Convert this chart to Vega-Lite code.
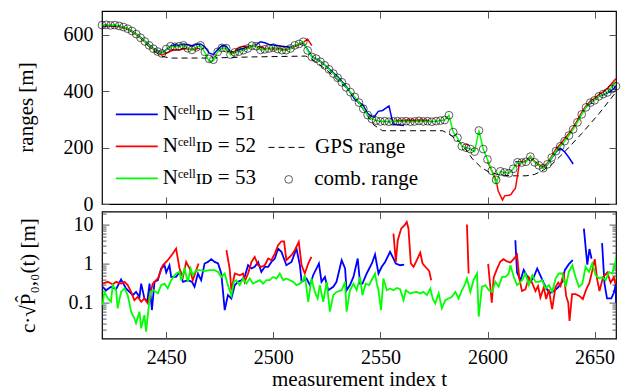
{
"$schema":"https://vega.github.io/schema/vega-lite/v6.json",
"background":"white",
"padding":{"left":14,"top":9,"right":5,"bottom":0},
"spacing":7.6,
"bounds":"flush",
"config":{
 "font":"Liberation Serif",
 "view":{"stroke":"black","strokeWidth":1.2},
 "axis":{"labelFont":"Liberation Serif","titleFont":"Liberation Serif","labelFontSize":20,"titleFontSize":21,"labelColor":"black","titleColor":"black","titleFontWeight":"normal","grid":false,"domain":false,"tickColor":"#555","tickWidth":1,"labelFlush":false},
 "legend":{"labelFont":"Liberation Serif","labelFontSize":21,"labelColor":"black"}
},
"resolve":{"scale":{"color":"independent"},"legend":{"color":"independent"}},
"datasets":{
"gps":[{"t":2420,"r":632},{"t":2430,"r":628},{"t":2436,"r":603},{"t":2440,"r":572},{"t":2444,"r":544},{"t":2448,"r":524},{"t":2452,"r":518},{"t":2470,"r":518},{"t":2490,"r":522},{"t":2515,"r":525},{"t":2518,"r":514},{"t":2525,"r":475},{"t":2535,"r":405},{"t":2542,"r":335},{"t":2547,"r":280},{"t":2551,"r":260},{"t":2579,"r":260},{"t":2582,"r":249},{"t":2588,"r":213},{"t":2593,"r":160},{"t":2597,"r":130},{"t":2601,"r":112},{"t":2606,"r":103},{"t":2612,"r":100},{"t":2618,"r":100},{"t":2622,"r":105},{"t":2626,"r":120},{"t":2630,"r":140},{"t":2636,"r":185},{"t":2644,"r":250},{"t":2652,"r":320},{"t":2660,"r":397}],
"comb":[{"t":2420,"r":635},{"t":2422,"r":636},{"t":2424,"r":634},{"t":2426,"r":635},{"t":2428,"r":632},{"t":2430,"r":628},{"t":2432,"r":622},{"t":2434,"r":614},{"t":2436,"r":603},{"t":2438,"r":590},{"t":2440,"r":577},{"t":2442,"r":563},{"t":2444,"r":551},{"t":2446,"r":541},{"t":2448,"r":534},{"t":2450,"r":550},{"t":2452,"r":560},{"t":2454,"r":558},{"t":2456,"r":560},{"t":2458,"r":563},{"t":2460,"r":553},{"t":2462,"r":547},{"t":2464,"r":556},{"t":2466,"r":563},{"t":2468,"r":540},{"t":2470,"r":515},{"t":2472,"r":512},{"t":2474,"r":540},{"t":2476,"r":554},{"t":2478,"r":553},{"t":2480,"r":530},{"t":2482,"r":538},{"t":2484,"r":541},{"t":2486,"r":546},{"t":2488,"r":552},{"t":2490,"r":562},{"t":2492,"r":560},{"t":2494,"r":547},{"t":2496,"r":549},{"t":2498,"r":552},{"t":2500,"r":555},{"t":2502,"r":550},{"t":2504,"r":546},{"t":2506,"r":546},{"t":2508,"r":552},{"t":2510,"r":563},{"t":2512,"r":568},{"t":2514,"r":576},{"t":2516,"r":545},{"t":2518,"r":522},{"t":2520,"r":516},{"t":2522,"r":505},{"t":2524,"r":492},{"t":2526,"r":478},{"t":2528,"r":463},{"t":2530,"r":448},{"t":2532,"r":432},{"t":2534,"r":414},{"t":2536,"r":397},{"t":2538,"r":380},{"t":2540,"r":360},{"t":2542,"r":338},{"t":2544,"r":316},{"t":2546,"r":302},{"t":2548,"r":296},{"t":2550,"r":293},{"t":2552,"r":294},{"t":2554,"r":292},{"t":2556,"r":293},{"t":2558,"r":294},{"t":2560,"r":293},{"t":2562,"r":294},{"t":2564,"r":292},{"t":2566,"r":293},{"t":2568,"r":295},{"t":2570,"r":293},{"t":2572,"r":294},{"t":2574,"r":292},{"t":2576,"r":294},{"t":2578,"r":296},{"t":2580,"r":298},{"t":2582,"r":315},{"t":2584,"r":255},{"t":2586,"r":235},{"t":2588,"r":205},{"t":2590,"r":200},{"t":2592,"r":195},{"t":2594,"r":186},{"t":2596,"r":261},{"t":2598,"r":195},{"t":2600,"r":158},{"t":2602,"r":118},{"t":2604,"r":86},{"t":2606,"r":116},{"t":2608,"r":112},{"t":2610,"r":109},{"t":2612,"r":125},{"t":2614,"r":148},{"t":2616,"r":147},{"t":2618,"r":150},{"t":2620,"r":168},{"t":2622,"r":148},{"t":2624,"r":137},{"t":2626,"r":127},{"t":2628,"r":141},{"t":2630,"r":165},{"t":2632,"r":188},{"t":2634,"r":205},{"t":2636,"r":223},{"t":2638,"r":243},{"t":2640,"r":265},{"t":2642,"r":290},{"t":2644,"r":318},{"t":2646,"r":343},{"t":2648,"r":360},{"t":2650,"r":368},{"t":2652,"r":382},{"t":2654,"r":390},{"t":2656,"r":396},{"t":2658,"r":408},{"t":2660,"r":418}],
"rng":[
{"cell":51,"seg":"b1","t":2420,"r":633},{"cell":51,"seg":"b1","t":2424,"r":633},{"cell":51,"seg":"b1","t":2428,"r":631},{"cell":51,"seg":"b1","t":2432,"r":622},{"cell":51,"seg":"b1","t":2436,"r":604},{"cell":51,"seg":"b1","t":2440,"r":578},{"cell":51,"seg":"b1","t":2444,"r":552},{"cell":51,"seg":"b1","t":2448,"r":536},{"cell":51,"seg":"b1","t":2450,"r":548},{"cell":51,"seg":"b1","t":2452,"r":560},{"cell":51,"seg":"b1","t":2454,"r":565},{"cell":51,"seg":"b1","t":2456,"r":563},{"cell":51,"seg":"b1","t":2458,"r":568},{"cell":51,"seg":"b1","t":2460,"r":565},{"cell":51,"seg":"b1","t":2462,"r":562},{"cell":51,"seg":"b1","t":2464,"r":566},{"cell":51,"seg":"b1","t":2466,"r":568},{"cell":51,"seg":"b1","t":2468,"r":558},{"cell":51,"seg":"b1","t":2470,"r":536},{"cell":51,"seg":"b1","t":2472,"r":530},{"cell":51,"seg":"b1","t":2474,"r":548},{"cell":51,"seg":"b1","t":2476,"r":562},{"cell":51,"seg":"b1","t":2478,"r":560},{"cell":51,"seg":"b1","t":2480,"r":538},{"cell":51,"seg":"b1","t":2482,"r":540},{"cell":51,"seg":"b1","t":2484,"r":548},{"cell":51,"seg":"b1","t":2486,"r":552},{"cell":51,"seg":"b1","t":2488,"r":556},{"cell":51,"seg":"b1","t":2490,"r":560},{"cell":51,"seg":"b1","t":2492,"r":565},{"cell":51,"seg":"b1","t":2494,"r":576},{"cell":51,"seg":"b1","t":2496,"r":572},{"cell":51,"seg":"b1","t":2498,"r":566},{"cell":51,"seg":"b1","t":2500,"r":564},{"cell":51,"seg":"b1","t":2502,"r":562},{"cell":51,"seg":"b1","t":2504,"r":560},{"cell":51,"seg":"b1","t":2506,"r":558},{"cell":51,"seg":"b1","t":2508,"r":556},{"cell":51,"seg":"b1","t":2510,"r":562},{"cell":51,"seg":"b1","t":2512,"r":566},{"cell":51,"seg":"b1","t":2514,"r":572},{"cell":51,"seg":"b1","t":2516,"r":548},{"cell":51,"seg":"b1","t":2518,"r":524},{"cell":51,"seg":"b1","t":2522,"r":506},{"cell":51,"seg":"b1","t":2526,"r":480},{"cell":51,"seg":"b1","t":2530,"r":452},{"cell":51,"seg":"b1","t":2534,"r":418},{"cell":51,"seg":"b1","t":2538,"r":372},{"cell":51,"seg":"b1","t":2540,"r":362},{"cell":51,"seg":"b1","t":2542,"r":350},{"cell":51,"seg":"b1","t":2544,"r":322},{"cell":51,"seg":"b1","t":2546,"r":310},{"cell":51,"seg":"b1","t":2547,"r":308},{"cell":51,"seg":"b1","t":2549,"r":329},{"cell":51,"seg":"b1","t":2551,"r":332},{"cell":51,"seg":"b1","t":2554,"r":348},{"cell":51,"seg":"b1","t":2555,"r":314},{"cell":51,"seg":"b1","t":2556,"r":283},{"cell":51,"seg":"b1","t":2558,"r":281},{"cell":51,"seg":"b1","t":2561,"r":279},
{"cell":51,"seg":"b2","t":2613,"r":150},{"cell":51,"seg":"b2","t":2616,"r":148},{"cell":51,"seg":"b2","t":2618,"r":152},{"cell":51,"seg":"b2","t":2620,"r":165},{"cell":51,"seg":"b2","t":2622,"r":150},{"cell":51,"seg":"b2","t":2624,"r":138},{"cell":51,"seg":"b2","t":2626,"r":128},{"cell":51,"seg":"b2","t":2628,"r":140},{"cell":51,"seg":"b2","t":2630,"r":163},{"cell":51,"seg":"b2","t":2632,"r":185},{"cell":51,"seg":"b2","t":2634,"r":198},{"cell":51,"seg":"b2","t":2636,"r":185},{"cell":51,"seg":"b2","t":2638,"r":165},{"cell":51,"seg":"b2","t":2640,"r":142},
{"cell":51,"seg":"b3","t":2645,"r":335},{"cell":51,"seg":"b3","t":2647,"r":352},{"cell":51,"seg":"b3","t":2649,"r":360},
{"cell":51,"seg":"b4","t":2653,"r":384},{"cell":51,"seg":"b4","t":2655,"r":391},{"cell":51,"seg":"b4","t":2657,"r":398},{"cell":51,"seg":"b4","t":2659,"r":410},{"cell":51,"seg":"b4","t":2660,"r":420},
{"cell":52,"seg":"r1","t":2420,"r":634},{"cell":52,"seg":"r1","t":2424,"r":633},{"cell":52,"seg":"r1","t":2428,"r":631},{"cell":52,"seg":"r1","t":2432,"r":621},{"cell":52,"seg":"r1","t":2436,"r":602},{"cell":52,"seg":"r1","t":2440,"r":576},{"cell":52,"seg":"r1","t":2444,"r":550},{"cell":52,"seg":"r1","t":2448,"r":528},{"cell":52,"seg":"r1","t":2450,"r":535},{"cell":52,"seg":"r1","t":2452,"r":542},{"cell":52,"seg":"r1","t":2454,"r":548},{"cell":52,"seg":"r1","t":2456,"r":546},{"cell":52,"seg":"r1","t":2458,"r":552},{"cell":52,"seg":"r1","t":2460,"r":550},{"cell":52,"seg":"r1","t":2462,"r":548},{"cell":52,"seg":"r1","t":2465,"r":552},
{"cell":52,"seg":"r2","t":2478,"r":548},{"cell":52,"seg":"r2","t":2480,"r":534},{"cell":52,"seg":"r2","t":2482,"r":542},{"cell":52,"seg":"r2","t":2484,"r":556},{"cell":52,"seg":"r2","t":2486,"r":560},{"cell":52,"seg":"r2","t":2488,"r":558},{"cell":52,"seg":"r2","t":2490,"r":562},{"cell":52,"seg":"r2","t":2492,"r":560},{"cell":52,"seg":"r2","t":2494,"r":556},{"cell":52,"seg":"r2","t":2496,"r":552},{"cell":52,"seg":"r2","t":2498,"r":552},{"cell":52,"seg":"r2","t":2500,"r":550},{"cell":52,"seg":"r2","t":2502,"r":553},{"cell":52,"seg":"r2","t":2504,"r":549},{"cell":52,"seg":"r2","t":2506,"r":548},{"cell":52,"seg":"r2","t":2508,"r":553},{"cell":52,"seg":"r2","t":2510,"r":560},{"cell":52,"seg":"r2","t":2512,"r":566},{"cell":52,"seg":"r2","t":2514,"r":574},{"cell":52,"seg":"r2","t":2516,"r":585},{"cell":52,"seg":"r2","t":2518,"r":562},
{"cell":52,"seg":"r3","t":2557,"r":297},{"cell":52,"seg":"r3","t":2560,"r":296},{"cell":52,"seg":"r3","t":2563,"r":298},{"cell":52,"seg":"r3","t":2566,"r":297},{"cell":52,"seg":"r3","t":2569,"r":298},{"cell":52,"seg":"r3","t":2573,"r":296},
{"cell":52,"seg":"r4","t":2590,"r":213},{"cell":52,"seg":"r4","t":2591,"r":208},
{"cell":52,"seg":"r5","t":2600,"r":150},{"cell":52,"seg":"r5","t":2602,"r":118},{"cell":52,"seg":"r5","t":2604,"r":85},{"cell":52,"seg":"r5","t":2605,"r":46},{"cell":52,"seg":"r5","t":2607,"r":14},{"cell":52,"seg":"r5","t":2608,"r":29},{"cell":52,"seg":"r5","t":2610,"r":31},{"cell":52,"seg":"r5","t":2611,"r":34},{"cell":52,"seg":"r5","t":2612,"r":46},{"cell":52,"seg":"r5","t":2613,"r":55},{"cell":52,"seg":"r5","t":2614,"r":100},{"cell":52,"seg":"r5","t":2615,"r":150},{"cell":52,"seg":"r5","t":2618,"r":152},{"cell":52,"seg":"r5","t":2620,"r":170},{"cell":52,"seg":"r5","t":2622,"r":150},{"cell":52,"seg":"r5","t":2624,"r":140},{"cell":52,"seg":"r5","t":2626,"r":130},{"cell":52,"seg":"r5","t":2628,"r":145},{"cell":52,"seg":"r5","t":2630,"r":170},{"cell":52,"seg":"r5","t":2632,"r":195},{"cell":52,"seg":"r5","t":2634,"r":212},{"cell":52,"seg":"r5","t":2636,"r":232},{"cell":52,"seg":"r5","t":2638,"r":250},{"cell":52,"seg":"r5","t":2640,"r":272},{"cell":52,"seg":"r5","t":2642,"r":298},{"cell":52,"seg":"r5","t":2644,"r":325},{"cell":52,"seg":"r5","t":2646,"r":348},{"cell":52,"seg":"r5","t":2648,"r":365},{"cell":52,"seg":"r5","t":2650,"r":375},{"cell":52,"seg":"r5","t":2652,"r":388},{"cell":52,"seg":"r5","t":2654,"r":398},{"cell":52,"seg":"r5","t":2656,"r":410},{"cell":52,"seg":"r5","t":2658,"r":428},{"cell":52,"seg":"r5","t":2660,"r":445},
{"cell":53,"seg":"g","t":2420,"r":635},{"cell":53,"seg":"g","t":2422,"r":636},{"cell":53,"seg":"g","t":2424,"r":634},{"cell":53,"seg":"g","t":2426,"r":635},{"cell":53,"seg":"g","t":2428,"r":632},{"cell":53,"seg":"g","t":2430,"r":628},{"cell":53,"seg":"g","t":2432,"r":622},{"cell":53,"seg":"g","t":2434,"r":614},{"cell":53,"seg":"g","t":2436,"r":603},{"cell":53,"seg":"g","t":2438,"r":590},{"cell":53,"seg":"g","t":2440,"r":577},{"cell":53,"seg":"g","t":2442,"r":563},{"cell":53,"seg":"g","t":2444,"r":551},{"cell":53,"seg":"g","t":2446,"r":541},{"cell":53,"seg":"g","t":2448,"r":534},{"cell":53,"seg":"g","t":2450,"r":550},{"cell":53,"seg":"g","t":2452,"r":560},{"cell":53,"seg":"g","t":2454,"r":558},{"cell":53,"seg":"g","t":2456,"r":560},{"cell":53,"seg":"g","t":2458,"r":563},{"cell":53,"seg":"g","t":2460,"r":553},{"cell":53,"seg":"g","t":2462,"r":547},{"cell":53,"seg":"g","t":2464,"r":556},{"cell":53,"seg":"g","t":2466,"r":563},{"cell":53,"seg":"g","t":2468,"r":538},{"cell":53,"seg":"g","t":2470,"r":507},{"cell":53,"seg":"g","t":2472,"r":508},{"cell":53,"seg":"g","t":2474,"r":540},{"cell":53,"seg":"g","t":2476,"r":554},{"cell":53,"seg":"g","t":2478,"r":553},{"cell":53,"seg":"g","t":2480,"r":530},{"cell":53,"seg":"g","t":2482,"r":538},{"cell":53,"seg":"g","t":2484,"r":541},{"cell":53,"seg":"g","t":2486,"r":546},{"cell":53,"seg":"g","t":2488,"r":552},{"cell":53,"seg":"g","t":2490,"r":562},{"cell":53,"seg":"g","t":2492,"r":560},{"cell":53,"seg":"g","t":2494,"r":547},{"cell":53,"seg":"g","t":2496,"r":549},{"cell":53,"seg":"g","t":2498,"r":552},{"cell":53,"seg":"g","t":2500,"r":555},{"cell":53,"seg":"g","t":2502,"r":550},{"cell":53,"seg":"g","t":2504,"r":546},{"cell":53,"seg":"g","t":2506,"r":546},{"cell":53,"seg":"g","t":2508,"r":552},{"cell":53,"seg":"g","t":2510,"r":563},{"cell":53,"seg":"g","t":2512,"r":568},{"cell":53,"seg":"g","t":2514,"r":576},{"cell":53,"seg":"g","t":2516,"r":545},{"cell":53,"seg":"g","t":2518,"r":522},{"cell":53,"seg":"g","t":2520,"r":516},{"cell":53,"seg":"g","t":2522,"r":505},{"cell":53,"seg":"g","t":2524,"r":492},{"cell":53,"seg":"g","t":2526,"r":478},{"cell":53,"seg":"g","t":2528,"r":463},{"cell":53,"seg":"g","t":2530,"r":448},{"cell":53,"seg":"g","t":2532,"r":432},{"cell":53,"seg":"g","t":2534,"r":414},{"cell":53,"seg":"g","t":2536,"r":397},{"cell":53,"seg":"g","t":2538,"r":380},{"cell":53,"seg":"g","t":2540,"r":360},{"cell":53,"seg":"g","t":2542,"r":338},{"cell":53,"seg":"g","t":2544,"r":316},{"cell":53,"seg":"g","t":2546,"r":302},{"cell":53,"seg":"g","t":2548,"r":296},{"cell":53,"seg":"g","t":2550,"r":293},{"cell":53,"seg":"g","t":2552,"r":294},{"cell":53,"seg":"g","t":2554,"r":292},{"cell":53,"seg":"g","t":2556,"r":293},{"cell":53,"seg":"g","t":2558,"r":294},{"cell":53,"seg":"g","t":2560,"r":293},{"cell":53,"seg":"g","t":2562,"r":294},{"cell":53,"seg":"g","t":2564,"r":292},{"cell":53,"seg":"g","t":2566,"r":293},{"cell":53,"seg":"g","t":2568,"r":295},{"cell":53,"seg":"g","t":2570,"r":293},{"cell":53,"seg":"g","t":2572,"r":294},{"cell":53,"seg":"g","t":2574,"r":292},{"cell":53,"seg":"g","t":2576,"r":294},{"cell":53,"seg":"g","t":2578,"r":296},{"cell":53,"seg":"g","t":2580,"r":298},{"cell":53,"seg":"g","t":2582,"r":315},{"cell":53,"seg":"g","t":2584,"r":255},{"cell":53,"seg":"g","t":2586,"r":235},{"cell":53,"seg":"g","t":2588,"r":205},{"cell":53,"seg":"g","t":2590,"r":200},{"cell":53,"seg":"g","t":2592,"r":195},{"cell":53,"seg":"g","t":2594,"r":186},{"cell":53,"seg":"g","t":2596,"r":261},{"cell":53,"seg":"g","t":2598,"r":195},{"cell":53,"seg":"g","t":2600,"r":158},{"cell":53,"seg":"g","t":2602,"r":118},{"cell":53,"seg":"g","t":2604,"r":72},{"cell":53,"seg":"g","t":2606,"r":116},{"cell":53,"seg":"g","t":2608,"r":112},{"cell":53,"seg":"g","t":2610,"r":109},{"cell":53,"seg":"g","t":2612,"r":125},{"cell":53,"seg":"g","t":2614,"r":148},{"cell":53,"seg":"g","t":2616,"r":147},{"cell":53,"seg":"g","t":2618,"r":150},{"cell":53,"seg":"g","t":2620,"r":168},{"cell":53,"seg":"g","t":2622,"r":148},{"cell":53,"seg":"g","t":2624,"r":137},{"cell":53,"seg":"g","t":2626,"r":127},{"cell":53,"seg":"g","t":2628,"r":141},{"cell":53,"seg":"g","t":2630,"r":165},{"cell":53,"seg":"g","t":2632,"r":188},{"cell":53,"seg":"g","t":2634,"r":205},{"cell":53,"seg":"g","t":2636,"r":223},{"cell":53,"seg":"g","t":2638,"r":243},{"cell":53,"seg":"g","t":2640,"r":265},{"cell":53,"seg":"g","t":2642,"r":290},{"cell":53,"seg":"g","t":2644,"r":318},{"cell":53,"seg":"g","t":2646,"r":343},{"cell":53,"seg":"g","t":2648,"r":360},{"cell":53,"seg":"g","t":2650,"r":368},{"cell":53,"seg":"g","t":2652,"r":382},{"cell":53,"seg":"g","t":2654,"r":390},{"cell":53,"seg":"g","t":2656,"r":396},{"cell":53,"seg":"g","t":2658,"r":415},{"cell":53,"seg":"g","t":2660,"r":432}],
"std":[
{"cell":51,"seg":"b1","t":2420.3,"v":0.257},{"cell":51,"seg":"b1","t":2421.9,"v":0.21},{"cell":51,"seg":"b1","t":2424.2,"v":0.257},{"cell":51,"seg":"b1","t":2426.6,"v":0.224},{"cell":51,"seg":"b1","t":2428.9,"v":0.4},{"cell":51,"seg":"b1","t":2431.2,"v":0.233},{"cell":51,"seg":"b1","t":2434.4,"v":0.157},{"cell":51,"seg":"b1","t":2435.9,"v":0.19},{"cell":51,"seg":"b1","t":2437.5,"v":0.142},{"cell":51,"seg":"b1","t":2438.3,"v":0.31},{"cell":51,"seg":"b1","t":2439.8,"v":0.129},{"cell":51,"seg":"b1","t":2441.1,"v":0.106},{"cell":51,"seg":"b1","t":2442.2,"v":0.31},{"cell":51,"seg":"b1","t":2443.3,"v":0.065},{"cell":51,"seg":"b1","t":2444.5,"v":0.345},{"cell":51,"seg":"b1","t":2446.1,"v":0.38},{"cell":51,"seg":"b1","t":2447.6,"v":0.76},{"cell":51,"seg":"b1","t":2449.2,"v":0.92},{"cell":51,"seg":"b1","t":2450.0,"v":0.6},{"cell":51,"seg":"b1","t":2451.5,"v":0.92},{"cell":51,"seg":"b1","t":2452.3,"v":0.46},{"cell":51,"seg":"b1","t":2454.6,"v":0.46},{"cell":51,"seg":"b1","t":2456.2,"v":0.62},{"cell":51,"seg":"b1","t":2457.8,"v":0.345},{"cell":51,"seg":"b1","t":2460.1,"v":0.38},{"cell":51,"seg":"b1","t":2462.0,"v":0.345},{"cell":51,"seg":"b1","t":2463.2,"v":0.257},{"cell":51,"seg":"b1","t":2464.8,"v":0.565},{"cell":51,"seg":"b1","t":2466.3,"v":0.38},{"cell":51,"seg":"b1","t":2467.9,"v":1.02},{"cell":51,"seg":"b1","t":2469.5,"v":1.12},{"cell":51,"seg":"b1","t":2471.0,"v":1.32},{"cell":51,"seg":"b1","t":2472.6,"v":1.12},{"cell":51,"seg":"b1","t":2474.2,"v":1.02},{"cell":51,"seg":"b1","t":2475.7,"v":0.565},{"cell":51,"seg":"b1","t":2477.3,"v":0.065},{"cell":51,"seg":"b1","t":2478.8,"v":0.157},{"cell":51,"seg":"b1","t":2480.4,"v":0.129},{"cell":51,"seg":"b1","t":2482.0,"v":0.284},{"cell":51,"seg":"b1","t":2483.5,"v":0.345},{"cell":51,"seg":"b1","t":2485.1,"v":0.38},{"cell":51,"seg":"b1","t":2486.6,"v":0.46},{"cell":51,"seg":"b1","t":2488.2,"v":0.92},{"cell":51,"seg":"b1","t":2489.8,"v":0.76},{"cell":51,"seg":"b1","t":2491.3,"v":0.84},{"cell":51,"seg":"b1","t":2492.9,"v":1.12},{"cell":51,"seg":"b1","t":2494.4,"v":0.62},{"cell":51,"seg":"b1","t":2496.0,"v":0.84},{"cell":51,"seg":"b1","t":2497.6,"v":0.84},{"cell":51,"seg":"b1","t":2499.1,"v":1.12},{"cell":51,"seg":"b1","t":2500.7,"v":1.37},{"cell":51,"seg":"b1","t":2502.2,"v":2.47},{"cell":51,"seg":"b1","t":2503.8,"v":2.03},{"cell":51,"seg":"b1","t":2506.1,"v":0.92},{"cell":51,"seg":"b1","t":2508.5,"v":1.12},{"cell":51,"seg":"b1","t":2510.8,"v":2.47},{"cell":51,"seg":"b1","t":2512.4,"v":0.92},{"cell":51,"seg":"b1","t":2513.2,"v":0.345},{"cell":51,"seg":"b1","t":2515.5,"v":0.42},{"cell":51,"seg":"b1","t":2517.1,"v":0.284},{"cell":51,"seg":"b1","t":2518.6,"v":0.51},{"cell":51,"seg":"b1","t":2521.3,"v":1.02},{"cell":51,"seg":"b1","t":2522.5,"v":0.345},{"cell":51,"seg":"b1","t":2524.1,"v":0.46},{"cell":51,"seg":"b1","t":2525.6,"v":0.21},{"cell":51,"seg":"b1","t":2528.0,"v":0.257},{"cell":51,"seg":"b1","t":2529.5,"v":0.345},{"cell":51,"seg":"b1","t":2531.9,"v":1.24},{"cell":51,"seg":"b1","t":2533.5,"v":0.76},{"cell":51,"seg":"b1","t":2534.2,"v":0.21},{"cell":51,"seg":"b1","t":2535.8,"v":0.284},{"cell":51,"seg":"b1","t":2537.4,"v":0.46},{"cell":51,"seg":"b1","t":2539.4,"v":1.37},{"cell":51,"seg":"b1","t":2540.5,"v":0.31},{"cell":51,"seg":"b1","t":2541.6,"v":0.31},{"cell":51,"seg":"b1","t":2543.6,"v":0.565},{"cell":51,"seg":"b1","t":2546.0,"v":1.02},{"cell":51,"seg":"b1","t":2547.5,"v":1.74},{"cell":51,"seg":"b1","t":2549.1,"v":0.565},{"cell":51,"seg":"b1","t":2550.6,"v":0.84},{"cell":51,"seg":"b1","t":2552.2,"v":1.12},{"cell":51,"seg":"b1","t":2554.5,"v":2.03},{"cell":51,"seg":"b1","t":2556.1,"v":1.37},{"cell":51,"seg":"b1","t":2557.2,"v":1.02},{"cell":51,"seg":"b1","t":2559.2,"v":0.92},{"cell":51,"seg":"b1","t":2561.1,"v":0.96},
{"cell":51,"seg":"b2","t":2613.0,"v":4.05},{"cell":51,"seg":"b2","t":2613.8,"v":0.6},{"cell":51,"seg":"b2","t":2615.4,"v":0.38},{"cell":51,"seg":"b2","t":2616.9,"v":0.7},{"cell":51,"seg":"b2","t":2618.5,"v":0.48},{"cell":51,"seg":"b2","t":2620.1,"v":0.35},{"cell":51,"seg":"b2","t":2621.6,"v":0.46},{"cell":51,"seg":"b2","t":2623.2,"v":0.76},{"cell":51,"seg":"b2","t":2624.7,"v":0.5},{"cell":51,"seg":"b2","t":2626.3,"v":0.32},{"cell":51,"seg":"b2","t":2627.8,"v":0.22},{"cell":51,"seg":"b2","t":2629.4,"v":0.18},{"cell":51,"seg":"b2","t":2631.0,"v":0.2},{"cell":51,"seg":"b2","t":2633.0,"v":0.25},{"cell":51,"seg":"b2","t":2635.0,"v":0.35},{"cell":51,"seg":"b2","t":2636.1,"v":0.69},{"cell":51,"seg":"b2","t":2638.0,"v":0.98},{"cell":51,"seg":"b2","t":2639.8,"v":1.24},
{"cell":51,"seg":"b3","t":2645.0,"v":8.0},{"cell":51,"seg":"b3","t":2646.6,"v":0.95},{"cell":51,"seg":"b3","t":2647.6,"v":2.4},{"cell":51,"seg":"b3","t":2648.6,"v":1.35},
{"cell":51,"seg":"b4","t":2653.5,"v":3.4},{"cell":51,"seg":"b4","t":2654.6,"v":0.32},{"cell":51,"seg":"b4","t":2655.8,"v":0.13},{"cell":51,"seg":"b4","t":2657.8,"v":0.13},{"cell":51,"seg":"b4","t":2659.0,"v":0.18},{"cell":51,"seg":"b4","t":2659.9,"v":0.3},{"cell":51,"seg":"b4","t":2660.0,"v":0.1},
{"cell":52,"seg":"r1","t":2420.3,"v":0.31},{"cell":52,"seg":"r1","t":2422.7,"v":0.345},{"cell":52,"seg":"r1","t":2425.0,"v":0.295},{"cell":52,"seg":"r1","t":2426.6,"v":0.345},{"cell":52,"seg":"r1","t":2428.9,"v":0.31},{"cell":52,"seg":"r1","t":2430.5,"v":0.345},{"cell":52,"seg":"r1","t":2432.0,"v":0.284},{"cell":52,"seg":"r1","t":2433.6,"v":0.19},{"cell":52,"seg":"r1","t":2435.1,"v":0.117},{"cell":52,"seg":"r1","t":2436.7,"v":0.142},{"cell":52,"seg":"r1","t":2438.3,"v":0.106},{"cell":52,"seg":"r1","t":2439.8,"v":0.129},{"cell":52,"seg":"r1","t":2441.4,"v":0.096},{"cell":52,"seg":"r1","t":2442.2,"v":0.142},{"cell":52,"seg":"r1","t":2443.7,"v":0.31},{"cell":52,"seg":"r1","t":2446.1,"v":0.42},{"cell":52,"seg":"r1","t":2448.4,"v":0.92},{"cell":52,"seg":"r1","t":2450.7,"v":1.24},{"cell":52,"seg":"r1","t":2453.1,"v":1.84},{"cell":52,"seg":"r1","t":2454.6,"v":2.47},{"cell":52,"seg":"r1","t":2456.2,"v":0.76},{"cell":52,"seg":"r1","t":2457.8,"v":0.46},{"cell":52,"seg":"r1","t":2459.3,"v":1.12},{"cell":52,"seg":"r1","t":2460.9,"v":0.76},{"cell":52,"seg":"r1","t":2462.4,"v":0.38},{"cell":52,"seg":"r1","t":2464.0,"v":0.69},{"cell":52,"seg":"r1","t":2465.1,"v":1.02},
{"cell":52,"seg":"r2","t":2478.1,"v":2.24},{"cell":52,"seg":"r2","t":2479.6,"v":0.76},{"cell":52,"seg":"r2","t":2480.4,"v":0.21},{"cell":52,"seg":"r2","t":2482.0,"v":0.565},{"cell":52,"seg":"r2","t":2484.3,"v":0.51},{"cell":52,"seg":"r2","t":2485.9,"v":0.565},{"cell":52,"seg":"r2","t":2486.6,"v":0.345},{"cell":52,"seg":"r2","t":2488.2,"v":0.565},{"cell":52,"seg":"r2","t":2489.8,"v":1.12},{"cell":52,"seg":"r2","t":2491.3,"v":1.51},{"cell":52,"seg":"r2","t":2492.9,"v":0.92},{"cell":52,"seg":"r2","t":2494.4,"v":0.84},{"cell":52,"seg":"r2","t":2496.0,"v":0.92},{"cell":52,"seg":"r2","t":2497.6,"v":1.37},{"cell":52,"seg":"r2","t":2499.1,"v":1.24},{"cell":52,"seg":"r2","t":2500.7,"v":1.84},{"cell":52,"seg":"r2","t":2502.2,"v":3.0},{"cell":52,"seg":"r2","t":2503.8,"v":3.8},{"cell":52,"seg":"r2","t":2505.0,"v":3.8},{"cell":52,"seg":"r2","t":2506.1,"v":1.24},{"cell":52,"seg":"r2","t":2508.5,"v":1.67},{"cell":52,"seg":"r2","t":2510.0,"v":2.24},{"cell":52,"seg":"r2","t":2511.9,"v":3.67},{"cell":52,"seg":"r2","t":2513.2,"v":0.92},{"cell":52,"seg":"r2","t":2514.7,"v":0.565},{"cell":52,"seg":"r2","t":2516.3,"v":1.02},{"cell":52,"seg":"r2","t":2517.8,"v":1.51},
{"cell":52,"seg":"r3","t":2556.1,"v":6.0},{"cell":52,"seg":"r3","t":2557.2,"v":1.12},{"cell":52,"seg":"r3","t":2558.1,"v":4.05},{"cell":52,"seg":"r3","t":2559.7,"v":8.05},{"cell":52,"seg":"r3","t":2561.5,"v":10.2},{"cell":52,"seg":"r3","t":2562.3,"v":11.9},{"cell":52,"seg":"r3","t":2563.1,"v":8.05},{"cell":52,"seg":"r3","t":2564.2,"v":1.02},{"cell":52,"seg":"r3","t":2565.5,"v":0.84},{"cell":52,"seg":"r3","t":2567.0,"v":1.24},{"cell":52,"seg":"r3","t":2568.6,"v":1.95},{"cell":52,"seg":"r3","t":2569.7,"v":1.02},{"cell":52,"seg":"r3","t":2571.7,"v":0.76},{"cell":52,"seg":"r3","t":2572.8,"v":0.65},{"cell":52,"seg":"r3","t":2573.7,"v":0.38},
{"cell":52,"seg":"r4","t":2590.4,"v":10.2},{"cell":52,"seg":"r4","t":2591.2,"v":0.565},
{"cell":52,"seg":"r5","t":2600.3,"v":1.0},{"cell":52,"seg":"r5","t":2602.0,"v":0.1},{"cell":52,"seg":"r5","t":2602.9,"v":0.45},{"cell":52,"seg":"r5","t":2604.4,"v":0.73},{"cell":52,"seg":"r5","t":2606.0,"v":1.15},{"cell":52,"seg":"r5","t":2607.5,"v":1.32},{"cell":52,"seg":"r5","t":2609.1,"v":1.15},{"cell":52,"seg":"r5","t":2610.7,"v":1.08},{"cell":52,"seg":"r5","t":2612.2,"v":1.32},{"cell":52,"seg":"r5","t":2613.8,"v":1.7},{"cell":52,"seg":"r5","t":2614.9,"v":0.4},{"cell":52,"seg":"r5","t":2616.1,"v":0.2},{"cell":52,"seg":"r5","t":2617.7,"v":0.22},{"cell":52,"seg":"r5","t":2619.3,"v":0.45},{"cell":52,"seg":"r5","t":2620.8,"v":0.33},{"cell":52,"seg":"r5","t":2622.4,"v":0.2},{"cell":52,"seg":"r5","t":2623.6,"v":0.27},{"cell":52,"seg":"r5","t":2624.7,"v":0.137},{"cell":52,"seg":"r5","t":2626.3,"v":0.25},{"cell":52,"seg":"r5","t":2627.4,"v":0.124},{"cell":52,"seg":"r5","t":2628.6,"v":0.22},{"cell":52,"seg":"r5","t":2630.2,"v":0.069},{"cell":52,"seg":"r5","t":2631.7,"v":0.25},{"cell":52,"seg":"r5","t":2633.0,"v":0.33},{"cell":52,"seg":"r5","t":2634.1,"v":0.27},{"cell":52,"seg":"r5","t":2635.6,"v":0.6},{"cell":52,"seg":"r5","t":2636.7,"v":0.15},{"cell":52,"seg":"r5","t":2637.7,"v":0.1},{"cell":52,"seg":"r5","t":2638.3,"v":0.034},{"cell":52,"seg":"r5","t":2639.5,"v":0.167},{"cell":52,"seg":"r5","t":2641.1,"v":0.167},{"cell":52,"seg":"r5","t":2642.9,"v":0.15},{"cell":52,"seg":"r5","t":2644.5,"v":0.124},{"cell":52,"seg":"r5","t":2646.1,"v":0.22},{"cell":52,"seg":"r5","t":2647.6,"v":0.33},{"cell":52,"seg":"r5","t":2648.9,"v":0.66},{"cell":52,"seg":"r5","t":2650.1,"v":1.32},{"cell":52,"seg":"r5","t":2651.2,"v":0.4},{"cell":52,"seg":"r5","t":2652.3,"v":0.2},{"cell":52,"seg":"r5","t":2653.9,"v":0.45},{"cell":52,"seg":"r5","t":2655.9,"v":0.6},{"cell":52,"seg":"r5","t":2657.5,"v":0.33},{"cell":52,"seg":"r5","t":2659.0,"v":0.45},{"cell":52,"seg":"r5","t":2659.8,"v":0.3},
{"cell":53,"seg":"g","t":2420.3,"v":0.087},{"cell":53,"seg":"g","t":2421.1,"v":0.19},{"cell":53,"seg":"g","t":2422.7,"v":0.129},{"cell":53,"seg":"g","t":2424.2,"v":0.106},{"cell":53,"seg":"g","t":2425.0,"v":0.284},{"cell":53,"seg":"g","t":2426.6,"v":0.21},{"cell":53,"seg":"g","t":2427.3,"v":0.072},{"cell":53,"seg":"g","t":2428.9,"v":0.19},{"cell":53,"seg":"g","t":2430.5,"v":0.233},{"cell":53,"seg":"g","t":2432.0,"v":0.157},{"cell":53,"seg":"g","t":2433.6,"v":0.059},{"cell":53,"seg":"g","t":2435.1,"v":0.04},{"cell":53,"seg":"g","t":2435.9,"v":0.03},{"cell":53,"seg":"g","t":2437.5,"v":0.059},{"cell":53,"seg":"g","t":2438.3,"v":0.022},{"cell":53,"seg":"g","t":2439.8,"v":0.048},{"cell":53,"seg":"g","t":2440.6,"v":0.018},{"cell":53,"seg":"g","t":2441.4,"v":0.048},{"cell":53,"seg":"g","t":2442.6,"v":0.19},{"cell":53,"seg":"g","t":2444.2,"v":0.21},{"cell":53,"seg":"g","t":2446.1,"v":0.174},{"cell":53,"seg":"g","t":2447.6,"v":0.284},{"cell":53,"seg":"g","t":2449.2,"v":0.31},{"cell":53,"seg":"g","t":2450.7,"v":0.233},{"cell":53,"seg":"g","t":2452.3,"v":0.38},{"cell":53,"seg":"g","t":2454.6,"v":0.565},{"cell":53,"seg":"g","t":2456.2,"v":0.62},{"cell":53,"seg":"g","t":2457.0,"v":0.38},{"cell":53,"seg":"g","t":2458.5,"v":0.76},{"cell":53,"seg":"g","t":2460.1,"v":0.345},{"cell":53,"seg":"g","t":2461.4,"v":0.76},{"cell":53,"seg":"g","t":2462.4,"v":0.51},{"cell":53,"seg":"g","t":2464.0,"v":0.69},{"cell":53,"seg":"g","t":2465.6,"v":0.69},{"cell":53,"seg":"g","t":2467.9,"v":0.65},{"cell":53,"seg":"g","t":2470.2,"v":0.69},{"cell":53,"seg":"g","t":2472.6,"v":0.69},{"cell":53,"seg":"g","t":2474.2,"v":0.62},{"cell":53,"seg":"g","t":2475.7,"v":0.46},{"cell":53,"seg":"g","t":2477.3,"v":0.565},{"cell":53,"seg":"g","t":2478.8,"v":0.284},{"cell":53,"seg":"g","t":2480.4,"v":0.157},{"cell":53,"seg":"g","t":2481.6,"v":0.345},{"cell":53,"seg":"g","t":2482.7,"v":0.38},{"cell":53,"seg":"g","t":2484.3,"v":0.284},{"cell":53,"seg":"g","t":2485.9,"v":0.42},{"cell":53,"seg":"g","t":2487.4,"v":0.31},{"cell":53,"seg":"g","t":2489.0,"v":0.42},{"cell":53,"seg":"g","t":2490.5,"v":0.31},{"cell":53,"seg":"g","t":2492.1,"v":0.345},{"cell":53,"seg":"g","t":2493.7,"v":0.38},{"cell":53,"seg":"g","t":2495.2,"v":0.31},{"cell":53,"seg":"g","t":2496.8,"v":0.38},{"cell":53,"seg":"g","t":2498.3,"v":0.38},{"cell":53,"seg":"g","t":2499.9,"v":0.46},{"cell":53,"seg":"g","t":2501.5,"v":0.42},{"cell":53,"seg":"g","t":2503.0,"v":0.565},{"cell":53,"seg":"g","t":2504.6,"v":0.38},{"cell":53,"seg":"g","t":2506.1,"v":0.42},{"cell":53,"seg":"g","t":2507.7,"v":0.38},{"cell":53,"seg":"g","t":2509.3,"v":0.345},{"cell":53,"seg":"g","t":2510.8,"v":0.284},{"cell":53,"seg":"g","t":2512.4,"v":0.31},{"cell":53,"seg":"g","t":2513.9,"v":0.38},{"cell":53,"seg":"g","t":2514.7,"v":0.51},{"cell":53,"seg":"g","t":2516.3,"v":0.106},{"cell":53,"seg":"g","t":2517.8,"v":0.42},{"cell":53,"seg":"g","t":2519.4,"v":0.19},{"cell":53,"seg":"g","t":2520.7,"v":0.129},{"cell":53,"seg":"g","t":2521.7,"v":0.284},{"cell":53,"seg":"g","t":2523.3,"v":0.106},{"cell":53,"seg":"g","t":2524.9,"v":0.345},{"cell":53,"seg":"g","t":2526.4,"v":0.059},{"cell":53,"seg":"g","t":2528.0,"v":0.157},{"cell":53,"seg":"g","t":2529.5,"v":0.19},{"cell":53,"seg":"g","t":2531.9,"v":0.21},{"cell":53,"seg":"g","t":2533.5,"v":0.345},{"cell":53,"seg":"g","t":2534.2,"v":0.059},{"cell":53,"seg":"g","t":2535.8,"v":0.21},{"cell":53,"seg":"g","t":2537.4,"v":0.31},{"cell":53,"seg":"g","t":2538.9,"v":0.21},{"cell":53,"seg":"g","t":2540.5,"v":0.46},{"cell":53,"seg":"g","t":2541.6,"v":0.157},{"cell":53,"seg":"g","t":2543.1,"v":0.31},{"cell":53,"seg":"g","t":2544.7,"v":0.284},{"cell":53,"seg":"g","t":2546.3,"v":0.42},{"cell":53,"seg":"g","t":2547.5,"v":0.565},{"cell":53,"seg":"g","t":2548.3,"v":0.31},{"cell":53,"seg":"g","t":2549.1,"v":0.21},{"cell":53,"seg":"g","t":2550.3,"v":0.065},{"cell":53,"seg":"g","t":2551.4,"v":0.42},{"cell":53,"seg":"g","t":2553.0,"v":0.21},{"cell":53,"seg":"g","t":2554.5,"v":0.233},{"cell":53,"seg":"g","t":2556.1,"v":0.21},{"cell":53,"seg":"g","t":2557.7,"v":0.24},{"cell":53,"seg":"g","t":2559.2,"v":0.224},{"cell":53,"seg":"g","t":2560.8,"v":0.117},{"cell":53,"seg":"g","t":2561.9,"v":0.21},{"cell":53,"seg":"g","t":2563.9,"v":0.174},{"cell":53,"seg":"g","t":2565.5,"v":0.184},{"cell":53,"seg":"g","t":2567.0,"v":0.19},{"cell":53,"seg":"g","t":2568.6,"v":0.174},{"cell":53,"seg":"g","t":2570.1,"v":0.19},{"cell":53,"seg":"g","t":2571.7,"v":0.157},{"cell":53,"seg":"g","t":2573.3,"v":0.233},{"cell":53,"seg":"g","t":2574.4,"v":0.129},{"cell":53,"seg":"g","t":2575.6,"v":0.096},{"cell":53,"seg":"g","t":2577.2,"v":0.174},{"cell":53,"seg":"g","t":2578.7,"v":0.072},{"cell":53,"seg":"g","t":2580.3,"v":0.117},{"cell":53,"seg":"g","t":2581.8,"v":0.129},{"cell":53,"seg":"g","t":2583.4,"v":0.142},{"cell":53,"seg":"g","t":2585.0,"v":0.19},{"cell":53,"seg":"g","t":2586.5,"v":0.129},{"cell":53,"seg":"g","t":2588.1,"v":0.21},{"cell":53,"seg":"g","t":2589.6,"v":0.31},{"cell":53,"seg":"g","t":2590.4,"v":0.42},{"cell":53,"seg":"g","t":2592.0,"v":0.19},{"cell":53,"seg":"g","t":2593.5,"v":0.38},{"cell":53,"seg":"g","t":2595.1,"v":0.565},{"cell":53,"seg":"g","t":2595.9,"v":0.044},{"cell":53,"seg":"g","t":2597.4,"v":0.257},{"cell":53,"seg":"g","t":2599.0,"v":0.284},{"cell":53,"seg":"g","t":2600.6,"v":0.21},{"cell":53,"seg":"g","t":2602.1,"v":0.19},{"cell":53,"seg":"g","t":2603.7,"v":0.345},{"cell":53,"seg":"g","t":2605.2,"v":0.257},{"cell":53,"seg":"g","t":2606.8,"v":0.46},{"cell":53,"seg":"g","t":2608.4,"v":0.46},{"cell":53,"seg":"g","t":2609.9,"v":0.565},{"cell":53,"seg":"g","t":2610.7,"v":0.92},{"cell":53,"seg":"g","t":2612.3,"v":0.46},{"cell":53,"seg":"g","t":2613.8,"v":0.284},{"cell":53,"seg":"g","t":2616.2,"v":0.38},{"cell":53,"seg":"g","t":2617.7,"v":0.565},{"cell":53,"seg":"g","t":2619.3,"v":0.284},{"cell":53,"seg":"g","t":2620.9,"v":0.51},{"cell":53,"seg":"g","t":2622.4,"v":0.345},{"cell":53,"seg":"g","t":2624.0,"v":0.345},{"cell":53,"seg":"g","t":2625.5,"v":0.38},{"cell":53,"seg":"g","t":2627.1,"v":0.233},{"cell":53,"seg":"g","t":2628.7,"v":0.284},{"cell":53,"seg":"g","t":2630.2,"v":0.19},{"cell":53,"seg":"g","t":2631.8,"v":0.42},{"cell":53,"seg":"g","t":2633.3,"v":0.565},{"cell":53,"seg":"g","t":2634.9,"v":0.565},{"cell":53,"seg":"g","t":2636.5,"v":0.257},{"cell":53,"seg":"g","t":2638.0,"v":0.62},{"cell":53,"seg":"g","t":2639.6,"v":0.92},{"cell":53,"seg":"g","t":2641.1,"v":0.46},{"cell":53,"seg":"g","t":2642.7,"v":0.257},{"cell":53,"seg":"g","t":2644.3,"v":0.31},{"cell":53,"seg":"g","t":2645.8,"v":0.84},{"cell":53,"seg":"g","t":2647.4,"v":0.62},{"cell":53,"seg":"g","t":2648.9,"v":1.02},{"cell":53,"seg":"g","t":2650.5,"v":0.51},{"cell":53,"seg":"g","t":2652.1,"v":0.42},{"cell":53,"seg":"g","t":2653.6,"v":0.46},{"cell":53,"seg":"g","t":2655.2,"v":0.38},{"cell":53,"seg":"g","t":2656.7,"v":0.62},{"cell":53,"seg":"g","t":2658.3,"v":0.565},{"cell":53,"seg":"g","t":2659.9,"v":1.24},{"cell":53,"seg":"g","t":2660.0,"v":1.5}]
},
"vconcat":[
{
 "width":514,"height":193,
 "resolve":{"axis":{"x":"independent","y":"independent"}},
 "layer":[
  {"data":{"name":"gps"},
   "mark":{"type":"line","color":"black","strokeWidth":1,"clip":true},
   "encoding":{
    "x":{"field":"t","type":"quantitative","scale":{"domain":[2420,2660],"nice":false,"zero":false},"axis":{"orient":"bottom","values":[2450,2500,2550,2600,2650],"labels":false,"tickSize":-7,"title":null}},
    "y":{"field":"r","type":"quantitative","scale":{"domain":[0,685],"nice":false,"zero":false},"axis":{"orient":"left","values":[0,200,400,600],"tickSize":-7,"labelPadding":16,"title":"ranges [m]","titleX":-70,"titleY":96,"titleBaseline":"alphabetic","titleAngle":270}},
    "strokeDash":{"datum":"GPS range","scale":{"domain":["GPS range"],"range":[[6,4]]},"legend":{"orient":"none","legendX":166,"legendY":120.4,"title":null,"symbolType":"stroke","symbolSize":1600,"symbolStrokeWidth":1,"symbolStrokeColor":"black","labelOffset":6,"clipHeight":32,"padding":0}}
   }},
  {"data":{"name":"rng"},
   "mark":{"type":"line","strokeWidth":1.5,"clip":true},
   "encoding":{
    "x":{"field":"t","type":"quantitative","axis":{"orient":"top","values":[2450,2500,2550,2600,2650],"labels":false,"tickSize":-7,"title":null}},
    "y":{"field":"r","type":"quantitative","axis":{"orient":"right","values":[0,200,400,600],"labels":false,"tickSize":-7,"title":null}},
    "color":{"field":"cell","type":"nominal","scale":{"domain":[51,52,53],"range":["#0000ff","#ff0000","#00ff00"]},"legend":{"orient":"none","legendX":12.8,"legendY":87.4,"title":null,"symbolType":"stroke","symbolSize":1764,"symbolStrokeWidth":1.8,"labelOffset":4,"clipHeight":32,"rowPadding":0,"padding":0,"labelExpr":"'Nᶜᵉˡˡɪᴅ = ' + datum.label"}},
    "detail":{"field":"seg","type":"nominal"}
   }},
  {"data":{"name":"comb"},
   "mark":{"type":"point","size":60,"filled":false,"color":"black","strokeWidth":0.9},
   "encoding":{
    "x":{"field":"t","type":"quantitative","axis":null},
    "y":{"field":"r","type":"quantitative","axis":null},
    "shape":{"datum":"comb. range","scale":{"domain":["comb. range"],"range":["circle"]},"legend":{"orient":"none","legendX":176.2,"legendY":152.4,"title":null,"symbolSize":60,"symbolStrokeWidth":0.9,"symbolStrokeColor":"black","symbolFillColor":"transparent","labelOffset":15,"clipHeight":32,"padding":0}}
   }}
 ]
},
{
 "width":514,"height":127,
 "resolve":{"axis":{"x":"independent","y":"independent"}},
 "layer":[
  {"data":{"name":"std"},
   "mark":{"type":"line","strokeWidth":1.8,"clip":true},
   "encoding":{
    "x":{"field":"t","type":"quantitative","scale":{"domain":[2420,2660],"nice":false,"zero":false},"axis":{"orient":"bottom","values":[2450,2500,2550,2600,2650],"format":"d","tickSize":-7,"labelPadding":16,"title":"measurement index t","titleX":257,"titleY":47,"titleBaseline":"alphabetic"}},
    "y":{"field":"v","type":"quantitative","scale":{"type":"log","domain":[0.012,22],"nice":false},"axis":{"orient":"left","values":[0.1,1,10],"format":"~g","tickSize":-7,"labelPadding":16,"title":"c·√P̂₀,₀(t) [m]","titleX":-68,"titleY":63.5,"titleBaseline":"alphabetic","titleAngle":270}},
    "color":{"field":"cell","type":"nominal","scale":{"domain":[51,52,53],"range":["#0000ff","#ff0000","#00ff00"]},"legend":null},
    "detail":{"field":"seg","type":"nominal"}
   }},
  {"data":{"values":[]},
   "mark":"point",
   "encoding":{
    "x":{"field":"t","type":"quantitative","axis":{"orient":"top","values":[2450,2500,2550,2600,2650],"labels":false,"tickSize":-7,"title":null}},
    "y":{"field":"v","type":"quantitative","axis":{"orient":"right","values":[0.1,1,10],"labels":false,"tickSize":-7,"title":null}}
   }},
  {"data":{"values":[]},
   "mark":"point",
   "encoding":{
    "x":{"field":"t","type":"quantitative","axis":null},
    "y":{"field":"v","type":"quantitative","axis":{"orient":"left","values":[0.02,0.03,0.04,0.05,0.06,0.07,0.08,0.09,0.2,0.3,0.4,0.5,0.6,0.7,0.8,0.9,2,3,4,5,6,7,8,9,20],"labels":false,"tickSize":-4,"title":null}}
   }},
  {"data":{"values":[]},
   "mark":"point",
   "encoding":{
    "x":{"field":"t","type":"quantitative","axis":null},
    "y":{"field":"v","type":"quantitative","axis":{"orient":"right","values":[0.02,0.03,0.04,0.05,0.06,0.07,0.08,0.09,0.2,0.3,0.4,0.5,0.6,0.7,0.8,0.9,2,3,4,5,6,7,8,9,20],"labels":false,"tickSize":-4,"title":null}}
   }}
 ]
}
]
}
